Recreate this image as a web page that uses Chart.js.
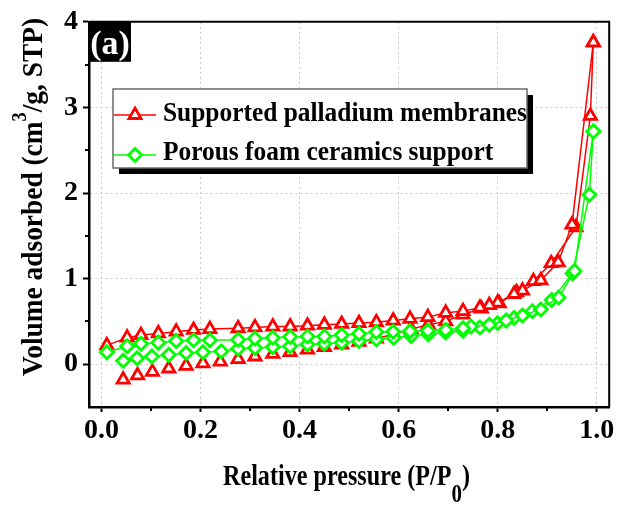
<!DOCTYPE html>
<html>
<head>
<meta charset="utf-8">
<script src="https://cdn.jsdelivr.net/npm/chart.js@4.4.1/dist/chart.umd.min.js"></script>
<style>
  html, body { margin: 0; padding: 0; background: #fff; }
  #wrap { width: 619px; height: 506px; }
</style>
</head>
<body>
<div id="wrap"><canvas id="c" width="619" height="506"></canvas></div>
<script>
// Nitrogen isotherms: relative pressure P/P0 vs volume adsorbed (cm3/g, STP)
const seriesNames = ['Supported palladium membranes', 'Porous foam ceramics support'];

// Supported palladium membranes — adsorption branch
const pdAdsP = [0.044, 0.073, 0.103, 0.136, 0.171, 0.205, 0.240, 0.276, 0.310, 0.346, 0.381, 0.416, 0.450, 0.485, 0.520,
                0.555, 0.590, 0.625, 0.660, 0.695, 0.730, 0.767, 0.803, 0.838, 0.872, 0.908, 0.958, 0.987, 0.993];
const pdAdsV = [-0.18, -0.13, -0.09, -0.05, -0.02, 0.01, 0.03, 0.06, 0.09, 0.12, 0.14, 0.17, 0.20, 0.23, 0.26,
                0.30, 0.35, 0.41, 0.46, 0.50, 0.58, 0.65, 0.71, 0.84, 0.97, 1.18, 1.60, 2.90, 3.76];
// Supported palladium membranes — desorption branch
const pdDesP = [0.993, 0.950, 0.922, 0.887, 0.850, 0.833, 0.800, 0.783, 0.764, 0.730, 0.695, 0.659, 0.623, 0.589, 0.555,
                0.520, 0.485, 0.450, 0.416, 0.381, 0.346, 0.310, 0.276, 0.219, 0.186, 0.151, 0.115, 0.080, 0.052, 0.011];
const pdDesV = [3.76, 1.63, 1.19, 0.98, 0.86, 0.82, 0.72, 0.69, 0.66, 0.62, 0.60, 0.55, 0.53, 0.51, 0.49,
                0.48, 0.47, 0.46, 0.45, 0.44, 0.44, 0.43, 0.42, 0.41, 0.40, 0.38, 0.36, 0.34, 0.31, 0.22];

// Porous foam ceramics support — adsorption branch
const ceramicAdsP = [0.044, 0.072, 0.102, 0.136, 0.171, 0.205, 0.242, 0.276, 0.310, 0.346, 0.381, 0.416, 0.450, 0.485, 0.520,
                     0.555, 0.590, 0.625, 0.660, 0.695, 0.730, 0.764, 0.800, 0.833, 0.870, 0.909, 0.951, 0.985, 0.993];
const ceramicAdsV = [0.04, 0.07, 0.09, 0.11, 0.13, 0.14, 0.15, 0.18, 0.19, 0.20, 0.21, 0.23, 0.24, 0.25, 0.27,
                     0.29, 0.31, 0.33, 0.35, 0.37, 0.39, 0.43, 0.48, 0.54, 0.62, 0.75, 1.06, 1.98, 2.72];
// Porous foam ceramics support — desorption branch
const ceramicDesP = [0.993, 0.955, 0.923, 0.887, 0.850, 0.817, 0.783, 0.746, 0.730, 0.695, 0.659, 0.623, 0.589, 0.555, 0.520,
                     0.485, 0.450, 0.416, 0.381, 0.346, 0.310, 0.276, 0.219, 0.186, 0.151, 0.115, 0.080, 0.052, 0.011];
const ceramicDesV = [2.72, 1.09, 0.78, 0.64, 0.57, 0.51, 0.46, 0.44, 0.42, 0.40, 0.39, 0.385, 0.38, 0.375, 0.355,
                     0.34, 0.325, 0.325, 0.32, 0.31, 0.30, 0.285, 0.28, 0.28, 0.27, 0.25, 0.24, 0.21, 0.14];

// Axis ticks
const xTicks = [0.0, 0.2, 0.4, 0.6, 0.8, 1.0];
const xMinorTicks = [0.1, 0.3, 0.5, 0.7, 0.9];
const yTicks = [0, 1, 2, 3, 4];
const yMinorTicks = [0.5, 1.5, 2.5, 3.5];

const FONT = '"Liberation Serif", "Times New Roman", serif';
const RED = '#ff0000';
const GREEN = '#00ff00';
const TRI_R = 7;
const DIA_R = 6.5;

const pts = (xs, ys) => xs.map((x, i) => ({ x, y: ys[i] }));

function seriesStyle(color, shape, radius) {
  return {
    showLine: true,
    tension: 0,
    borderColor: color,
    borderWidth: 1.5,
    pointStyle: shape,
    pointRadius: radius,
    pointHoverRadius: radius,
    pointBorderColor: color,
    pointBackgroundColor: '#ffffff',
    pointBorderWidth: 2.8
  };
}

// Rich text (super/subscripts), squeezed horizontally to a given run length
function drawRich(ctx, parts, x, y, length, rotate) {
  let natural = 0;
  parts.forEach(p => {
    ctx.font = `bold ${p.size}px ${FONT}`;
    p.w = ctx.measureText(p.t).width;
    natural += p.w;
  });
  ctx.save();
  ctx.translate(x, y);
  if (rotate) ctx.rotate(-Math.PI / 2);
  ctx.scale(length / natural, 1);
  ctx.fillStyle = '#000';
  ctx.textBaseline = 'alphabetic';
  ctx.textAlign = 'left';
  let cx = 0;
  parts.forEach(p => {
    ctx.font = `bold ${p.size}px ${FONT}`;
    ctx.fillText(p.t, cx, p.dy || 0);
    cx += p.w;
  });
  ctx.restore();
}

const decorations = {
  id: 'decorations',
  beforeDraw(chart) {
    const ctx = chart.ctx;
    ctx.save();
    ctx.fillStyle = '#fff';
    ctx.fillRect(0, 0, chart.width, chart.height);
    ctx.restore();
  },
  afterDraw(chart) {
    const ctx = chart.ctx;
    const { left, right, top, bottom } = chart.chartArea;
    const xs = chart.scales.x, ys = chart.scales.y;

    ctx.save();
    // top and right frame
    ctx.strokeStyle = '#000';
    ctx.lineWidth = 2;
    ctx.beginPath();
    ctx.moveTo(left, top);
    ctx.lineTo(right, top);
    ctx.lineTo(right, bottom);
    ctx.stroke();

    // minor ticks
    ctx.lineWidth = 2;
    xMinorTicks.forEach(v => {
      const px = Math.round(xs.getPixelForValue(v));
      ctx.beginPath();
      ctx.moveTo(px, bottom);
      ctx.lineTo(px, bottom + 4);
      ctx.stroke();
    });
    yMinorTicks.forEach(v => {
      const py = Math.round(ys.getPixelForValue(v));
      ctx.beginPath();
      ctx.moveTo(left - 4, py);
      ctx.lineTo(left, py);
      ctx.stroke();
    });

    // panel tag "(a)"
    ctx.fillStyle = '#000';
    ctx.fillRect(left - 1, top, 43, 40);
    ctx.fillStyle = '#fff';
    ctx.font = `bold 34px ${FONT}`;
    ctx.textAlign = 'center';
    ctx.textBaseline = 'alphabetic';
    ctx.fillText('(a)', left + 21, top + 32);

    // legend box with drop shadow
    const lx = 113, ly = 89, lw = 414, lh = 79;
    ctx.fillStyle = '#000';
    ctx.fillRect(lx + 6, ly + 6, lw, lh);
    ctx.fillStyle = '#fff';
    ctx.fillRect(lx, ly, lw, lh);
    ctx.strokeStyle = '#6a6a6a';
    ctx.lineWidth = 1.5;
    ctx.strokeRect(lx, ly, lw, lh);

    const rows = [
      { name: seriesNames[0], color: RED, shape: 'triangle', r: TRI_R, lineY: 115, textY: 121 },
      { name: seriesNames[1], color: GREEN, shape: 'rectRot', r: DIA_R, lineY: 155, textY: 160 }
    ];
    ctx.font = `bold 28px ${FONT}`;
    const squeeze = 364 / ctx.measureText(seriesNames[0]).width;
    rows.forEach(row => {
      ctx.strokeStyle = row.color;
      ctx.lineWidth = 1.5;
      ctx.beginPath();
      ctx.moveTo(lx + 1, row.lineY);
      ctx.lineTo(lx + 43, row.lineY);
      ctx.stroke();
      ctx.fillStyle = '#fff';
      ctx.strokeStyle = row.color;
      ctx.lineWidth = 2.8;
      Chart.helpers.drawPoint(ctx, { pointStyle: row.shape, radius: row.r, rotation: 0, borderWidth: 2.8 }, lx + 22, row.lineY);
      ctx.save();
      ctx.translate(163, row.textY);
      ctx.scale(squeeze, 1);
      ctx.fillStyle = '#000';
      ctx.font = `bold 28px ${FONT}`;
      ctx.textAlign = 'left';
      ctx.textBaseline = 'alphabetic';
      ctx.fillText(row.name, 0, 0);
      ctx.restore();
    });

    // axis titles
    drawRich(ctx, [
      { t: 'Relative pressure (P/P', size: 30 },
      { t: '0', size: 26, dy: 17 },
      { t: ')', size: 30 }
    ], 223, 485, 247, false);

    drawRich(ctx, [
      { t: 'Volume adsorbed (cm', size: 30 },
      { t: '3', size: 20, dy: -16 },
      { t: '/g, STP)', size: 30 }
    ], 42, 376, 358, true);

    ctx.restore();
  }
};

new Chart(document.getElementById('c'), {
  type: 'scatter',
  data: {
    datasets: [
      { label: seriesNames[1], data: pts(ceramicDesP, ceramicDesV), ...seriesStyle(GREEN, 'rectRot', DIA_R) },
      { label: seriesNames[1], data: pts(ceramicAdsP, ceramicAdsV), ...seriesStyle(GREEN, 'rectRot', DIA_R) },
      { label: seriesNames[0], data: pts(pdDesP, pdDesV), ...seriesStyle(RED, 'triangle', TRI_R) },
      {
        label: seriesNames[0], data: pts(pdAdsP, pdAdsV), ...seriesStyle(RED, 'triangle', TRI_R),
        segment: { borderColor: c => (c.p1.parsed.x < 0.55 ? 'rgba(0,0,0,0)' : RED) }
      }
    ]
  },
  options: {
    responsive: false,
    animation: false,
    devicePixelRatio: 1,
    layout: { padding: { top: 19, right: 9, left: 0, bottom: 0 } },
    plugins: { legend: { display: false }, tooltip: { enabled: false } },
    scales: {
      x: {
        type: 'linear',
        min: -0.025,
        max: 1.025,
        afterBuildTicks: s => { s.ticks = xTicks.map(v => ({ value: v })); },
        afterFit: s => { s.height = 99; },
        ticks: {
          callback: v => Number(v).toFixed(1),
          font: { family: FONT, size: 28, weight: 'bold' },
          color: '#000',
          padding: 2,
          maxRotation: 0,
          autoSkip: false
        },
        grid: { color: '#c8c8c8', lineWidth: 1, drawTicks: true, tickLength: 5, tickColor: '#000', tickWidth: 2 },
        border: { display: true, color: '#000', width: 2.5, dash: [2, 3] }
      },
      y: {
        type: 'linear',
        min: -0.5,
        max: 4,
        afterBuildTicks: s => { s.ticks = yTicks.map(v => ({ value: v })); },
        afterFit: s => { s.width = 89; },
        ticks: {
          callback: v => String(v),
          font: { family: FONT, size: 28, weight: 'bold' },
          color: '#000',
          padding: 5,
          autoSkip: false
        },
        grid: { color: '#c8c8c8', lineWidth: 1, drawTicks: true, tickLength: 6, tickColor: '#000', tickWidth: 2 },
        border: { display: true, color: '#000', width: 2.5, dash: [2, 3] }
      }
    }
  },
  plugins: [decorations]
});
</script>
</body>
</html>
